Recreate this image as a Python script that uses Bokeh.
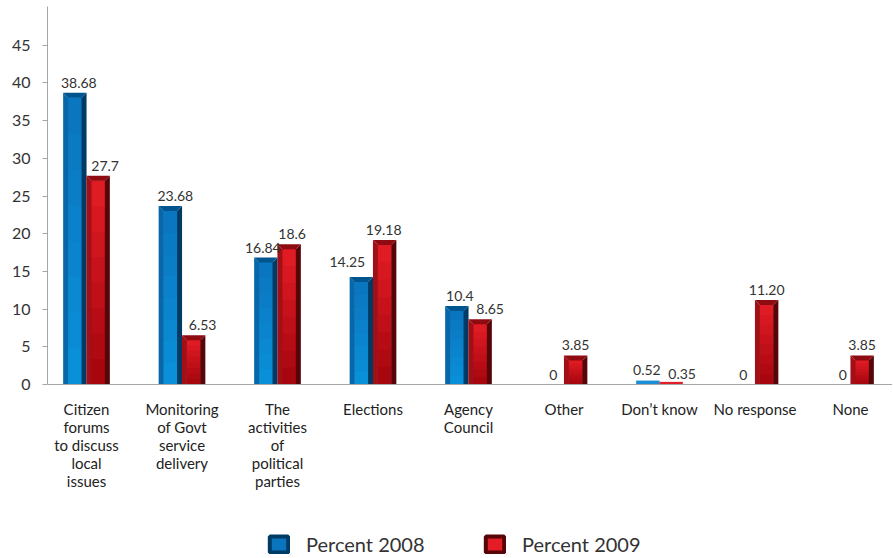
import numpy as np
from bokeh.plotting import figure
from bokeh.models import Range1d, FixedTicker, Legend, LegendItem, ColumnDataSource
from bokeh.core.properties import value
from bokeh.embed import file_html
from bokeh.resources import INLINE

# ---------------- data ----------------
categories = ["Citizen\nforums\nto discuss\nlocal\nissues",
              "Monitoring\nof Govt\nservice\ndelivery",
              "The\nactivities\nof\npolitical\nparties",
              "Elections",
              "Agency\nCouncil",
              "Other",
              "Don\u2019t know",
              "No response",
              "None"]
pct_2008 = [38.68, 23.68, 16.84, 14.25, 10.4, 0, 0.52, 0, 0]
pct_2009 = [27.7, 6.53, 18.6, 19.18, 8.65, 3.85, 0.35, 11.20, 3.85]
lbl_2008 = ["38.68", "23.68", "16.84", "14.25", "10.4", "0", "0.52", "0", "0"]
lbl_2009 = ["27.7", "6.53", "18.6", "19.18", "8.65", "3.85", "0.35", "11.20", "3.85"]
series_names = ["Percent 2008", "Percent 2009"]
y_ticks = [0, 5, 10, 15, 20, 25, 30, 35, 40, 45]

# ---------------- style ----------------
FONT = "Lato"
TXT = "#333333"
PX_X = 95.5          # px per category unit
PX_Y = 7.54          # px per y unit
BAR_W = 0.245
SHIFT = 0.122
STRIP = 5 / PX_X
CAP = 5 / PX_Y
FRAME_W = 845
FRAME_H = 550
PLOT_H = 378         # px from y=0 to top of frame
Y_TOP = PLOT_H / PX_Y
Y_BOT = -(FRAME_H - PLOT_H) / PX_Y

blue = dict(cap="#00558f", left="#0767a8", right="#003b66",
            top="#0a74bd", bottom="#0a92da", flat="#1a8fd6")
red = dict(cap="#8e0b12", left="#a10f17", right="#560508",
           top="#e31c26", bottom="#a3050d", flat="#e0202a")

lbl_dx_2008 = [4, 5, -3, -14, 3, 1, -1, 0, 4]
lbl_dy_2008 = [5, 5, 5, 10, 5, 5, 6, 5, 5]
lbl_dx_2009 = [7, 9, 3, -1, 10, 0, 11, 0, 0]
lbl_dy_2009 = [5, 5, 5, 5, 5, 5, 3, 5, 5]

p = figure(frame_width=FRAME_W, frame_height=FRAME_H,
           output_backend="svg",
           toolbar_location=None, min_border_left=47, min_border_right=0,
           min_border_top=6, min_border_bottom=0,
           x_range=Range1d(-39 / PX_X, -39 / PX_X + FRAME_W / PX_X),
           y_range=Range1d(Y_BOT, Y_TOP))
p.outline_line_color = None
p.grid.visible = False
p.background_fill_color = "white"
p.border_fill_color = "white"


def mix(c1, c2, t):
    a = [int(c1[i:i + 2], 16) for i in (1, 3, 5)]
    b = [int(c2[i:i + 2], 16) for i in (1, 3, 5)]
    return "#%02x%02x%02x" % tuple(int(round(a[k] + (b[k] - a[k]) * t)) for k in range(3))


def draw_series(vals, shift, col):
    xs = np.arange(len(vals)) + shift
    v = np.array(vals, dtype=float)
    big = v >= 1.5
    small = (v > 0) & (~big)
    L = xs - BAR_W / 2
    R = xs + BAR_W / 2
    if small.any():
        p.quad(left=L[small], right=R[small], bottom=0, top=v[small],
               fill_color=col["flat"], line_color=None)
    Lb, Rb, vb = L[big], R[big], v[big]
    n = 8
    for k in range(n):
        b0 = (vb - CAP) * k / n
        b1 = (vb - CAP) * (k + 1) / n
        p.quad(left=Lb + STRIP * 0.9, right=Rb - STRIP * 0.9, bottom=b0,
               top=np.minimum(b1 + 0.2, vb - CAP * 0.9),
               fill_color=mix(col["bottom"], col["top"], (k + 0.5) / n),
               line_color=None)
    p.patches(xs=[[l, l, l + STRIP, l + STRIP] for l in Lb],
              ys=[[0, t, t - CAP, 0] for t in vb],
              fill_color=col["left"], line_color=None)
    p.patches(xs=[[r, r, r - STRIP, r - STRIP] for r in Rb],
              ys=[[0, t, t - CAP, 0] for t in vb],
              fill_color=col["right"], line_color=None)
    p.patches(xs=[[l, r, r - STRIP, l + STRIP] for l, r in zip(Lb, Rb)],
              ys=[[t, t, t - CAP, t - CAP] for t in vb],
              fill_color=col["cap"], line_color=None)


draw_series(pct_2008, -SHIFT, blue)
draw_series(pct_2009, SHIFT, red)

for vals, labels, shift, dx, dy in [(pct_2008, lbl_2008, -SHIFT, lbl_dx_2008, lbl_dy_2008),
                                    (pct_2009, lbl_2009, SHIFT, lbl_dx_2009, lbl_dy_2009)]:
    src = ColumnDataSource(dict(x=np.arange(len(vals)) + shift, y=vals, t=labels,
                                dx=dx, dy=[-d for d in dy]))
    p.text(x="x", y="y", text="t", x_offset="dx", y_offset="dy", source=src,
           text_font=value(FONT), text_font_size="14px", text_color=TXT,
           text_align="center", text_baseline="bottom")

# category labels under the baseline (x from the category index)
cat_src = ColumnDataSource(dict(x=list(range(len(categories))),
                                y=[0] * len(categories), t=categories))
p.text(x="x", y="y", text="t", source=cat_src, y_offset=15,
       text_font=value(FONT), text_font_size="15px", text_color="#222222",
       text_align="center", text_baseline="top", text_line_height=1.0)

# axes
p.yaxis.ticker = FixedTicker(ticks=y_ticks)
p.yaxis.bounds = (0, Y_TOP)
p.yaxis.minor_tick_line_color = None
p.yaxis.major_tick_out = 5
p.yaxis.major_tick_in = 0
p.yaxis.axis_line_color = "#a6a6a6"
p.yaxis.major_tick_line_color = "#a6a6a6"
p.yaxis.major_label_text_font = FONT
p.yaxis.major_label_text_font_size = "16px"
p.yaxis.major_label_text_color = TXT
p.yaxis.major_label_standoff = 12

p.xaxis.fixed_location = 0
p.xaxis.ticker = FixedTicker(ticks=[])
p.xaxis.minor_tick_line_color = None
p.xaxis.major_tick_line_color = None
p.xaxis.major_tick_out = 0
p.xaxis.major_label_standoff = 0
p.xaxis.axis_line_color = "#a6a6a6"

# legend (renderers with a NaN point: they only provide legend glyphs)
items = []
for name, col in zip(series_names, [blue, red]):
    r = p.rect(x=[np.nan], y=[np.nan], width=1, height=1, fill_color=col["top"],
               line_color=col["right"], line_width=4)
    items.append(LegendItem(label=name, renderers=[r]))
legend = Legend(items=items, orientation="horizontal", location=(220, 0),
                padding=0, margin=0, spacing=53,
                glyph_width=23, glyph_height=20, label_standoff=16,
                label_width=124, label_height=20,
                label_text_font=FONT, label_text_font_size="20px",
                label_text_color=TXT, border_line_color=None,
                background_fill_alpha=0)
p.add_layout(legend, "center")

open("out.html", "w").write(file_html(p, INLINE))
